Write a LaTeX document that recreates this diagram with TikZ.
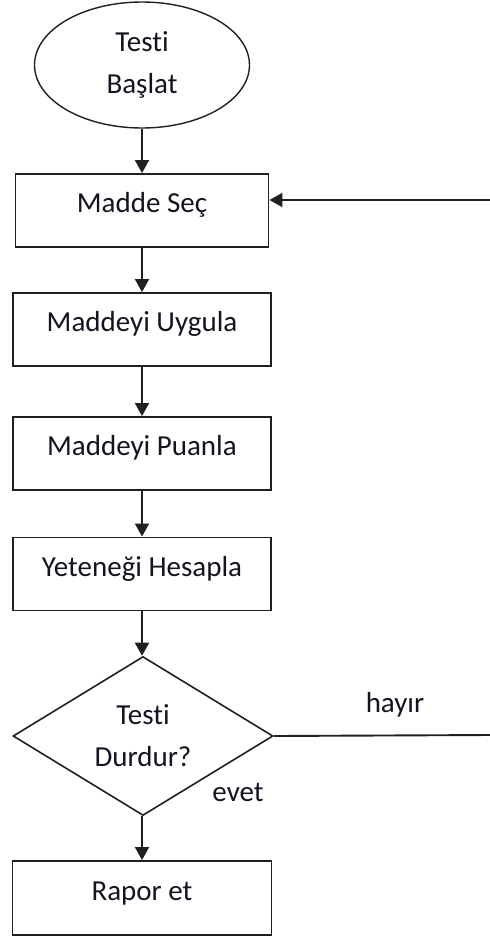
\documentclass[tikz,border=0pt]{standalone}
\usepackage{fontspec}
\setmainfont[Ligatures=NoCommon]{Carlito}
\usetikzlibrary{shapes.geometric,arrows.meta}
\definecolor{FlowLine}{HTML}{202020}
\definecolor{FlowText}{HTML}{141420}
\tikzset{
  flowbox/.style={draw=FlowLine,line width=1.9pt,minimum height=73,inner sep=0pt,text=FlowText,text height=19pt,text depth=15pt},
  flowarrow/.style={draw=FlowLine,line width=1.9pt,-{Triangle[length=13pt,width=14pt]}},
  flowline/.style={draw=FlowLine,line width=1.9pt},
  flowlabel/.style={text=FlowText,inner sep=0pt}
}

\begin{document}
\begin{tikzpicture}[x=1pt,y=-1pt,font=\fontsize{29}{42}\selectfont]
    \useasboundingbox (0,0) rectangle (490,938);
    \node[ellipse,draw=FlowLine,line width=1.4pt,minimum width=215,minimum height=126,inner sep=0pt,text=FlowText,align=center] (start) at (142,65) {Testi\\Başlat};
    \node[flowbox,minimum width=253] (sec) at (142,210.5) {Madde Seç};
    \node[flowbox,minimum width=258] (uygula) at (142,329.5) {Maddeyi Uygula};
    \node[flowbox,minimum width=258] (puanla) at (142,453.5) {Maddeyi Puanla};
    \node[flowbox,minimum width=258] (hesapla) at (142,574) {Yeteneği Hesapla};
    \node[diamond,draw=FlowLine,line width=1.6pt,minimum width=260,minimum height=155,inner sep=0pt,text=FlowText,align=center] (durdur) at (143,736) {Testi\\Durdur?};
    \node[flowbox,minimum width=259,minimum height=74] (rapor) at (142,898) {Rapor et};

    \coordinate (donusalt) at (490,735);
    \coordinate (donusust) at (490,200);
    \node[flowlabel] (hayir) at (395,705) {hayır};
    \node[flowlabel] (evet) at (238,792) {evet};

    \draw[flowarrow] (start) -- (sec);
    \draw[flowarrow] (sec) -- (uygula);
    \draw[flowarrow] (uygula) -- (puanla);
    \draw[flowarrow] (puanla) -- (hesapla);
    \draw[flowarrow] (hesapla) -- (hesapla |- durdur.north);
    \draw[flowarrow] (durdur.south -| rapor) -- (rapor);
    \draw[flowline] (durdur.east) -- (donusalt);
    \draw[flowarrow] (donusust) -- (donusust -| sec.east);
  \end{tikzpicture}
\end{document}
